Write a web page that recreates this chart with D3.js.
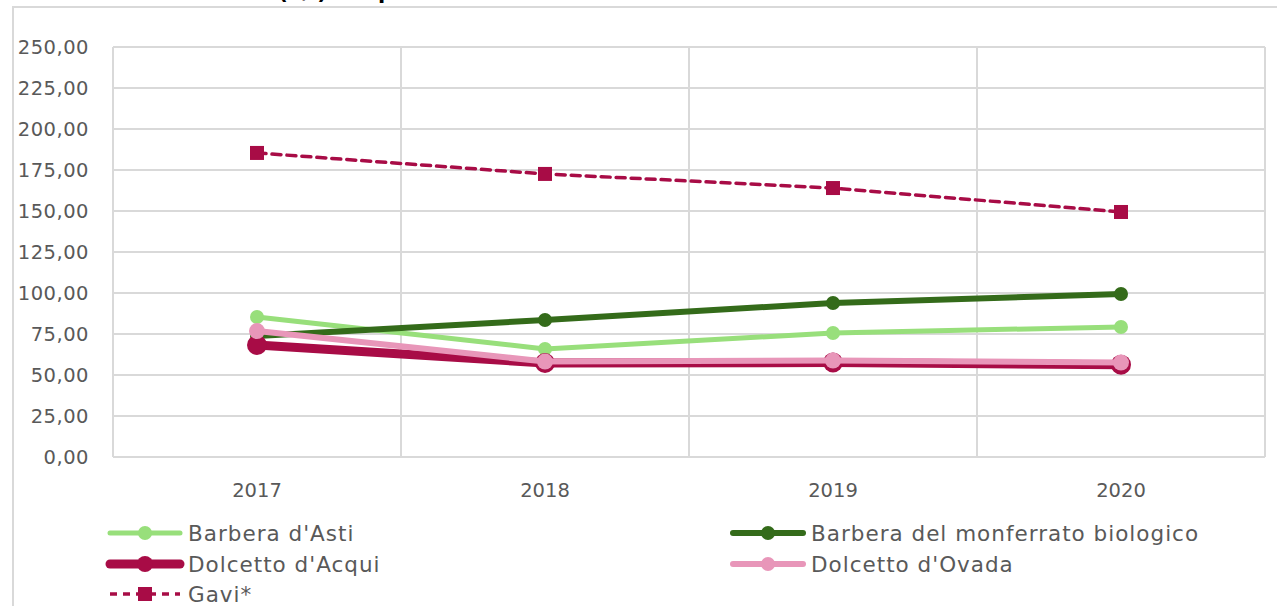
<!DOCTYPE html>
<html>
<head>
<meta charset="utf-8">
<script src="https://cdn.jsdelivr.net/npm/d3@7"></script>
<style>
  body { margin: 0; background: #fff; }
  text { font-family: "DejaVu Sans", sans-serif; }
</style>
</head>
<body>
<svg id="chart" width="1277" height="606"></svg>
<script>
var years = ["2017", "2018", "2019", "2020"];
var yTicks = [0, 25, 50, 75, 100, 125, 150, 175, 200, 225, 250];

var barberaAsti = [85.4, 65.9, 75.6, 79.3];
var barberaMonf = [73.8, 83.5, 93.9, 99.4];
var dolcettoAcqui = [68.3, 57.3, 57.6, 56.3];
var dolcettoOvada = [76.8, 58.2, 58.8, 57.6];
var gavi = [185.4, 172.6, 164.0, 149.4];

var series = [
    {name: "Barbera d'Asti", values: barberaAsti, color: "#98df7b", width: 5, r: 7, col: 0, row: 0},
    {name: "Barbera del monferrato biologico", values: barberaMonf, color: "#346b1a", width: 6, r: 7, col: 1, row: 0},
    {name: "Dolcetto d'Acqui", values: dolcettoAcqui, color: "#a80c46", width: 9, r: 10, col: 0, row: 1},
    {name: "Dolcetto d'Ovada", values: dolcettoOvada, color: "#e896b9", width: 6, r: 8, col: 1, row: 1},
    {name: "Gavi*", values: gavi, color: "#a80c46", width: 3.5, r: 0, square: 7, dash: "9,6", col: 0, row: 2}
];

var svg = d3.select("#chart");
var margin = {left: 113, right: 1265, top: 47, bottom: 457};

// outer frame, title mostly hidden above it
svg.append("text")
    .attr("x", 112).attr("y", -1)
    .attr("font-size", 21).attr("font-weight", "bold").attr("fill", "#000")
    .text("Prezzo medio (€/l) del prodotto");

svg.append("rect")
    .attr("x", 13).attr("y", 7)
    .attr("width", 1300).attr("height", 700)
    .attr("fill", "#fff").attr("stroke", "#d9d9d9").attr("stroke-width", 2);

var x = d3.scaleBand().domain(years).range([margin.left, margin.right]);
var y = d3.scaleLinear().domain([0, 250]).range([margin.bottom, margin.top]);

// horizontal grid
svg.append("g")
    .selectAll("line")
    .data(yTicks)
    .enter()
    .append("line")
    .attr("x1", margin.left).attr("x2", margin.right)
    .attr("y1", function(d){ return y(d); })
    .attr("y2", function(d){ return y(d); })
    .attr("stroke", "#d9d9d9").attr("stroke-width", 2);

// vertical grid on band edges
var edges = years.map(function(d){ return x(d); }).concat([margin.right]);
svg.append("g")
    .selectAll("line")
    .data(edges)
    .enter()
    .append("line")
    .attr("x1", function(d){ return d; }).attr("x2", function(d){ return d; })
    .attr("y1", margin.top).attr("y2", margin.bottom)
    .attr("stroke", "#d9d9d9").attr("stroke-width", 2);

var fmt = function(d){ return d3.format(".2f")(d).replace(".", ","); };

var yAxis = svg.append("g")
    .attr("transform", "translate(" + (margin.left - 21) + ",0)")
    .call(d3.axisLeft(y).tickValues(yTicks).tickFormat(fmt).tickSize(0));
yAxis.select(".domain").remove();
yAxis.selectAll("text")
    .attr("font-size", 19.5).attr("fill", "#595959")
    .attr("letter-spacing", 0.5)
    .attr("font-family", "DejaVu Sans");

var xAxis = svg.append("g")
    .attr("transform", "translate(0," + (margin.bottom + 23) + ")")
    .call(d3.axisBottom(x).tickSize(0));
xAxis.select(".domain").remove();
xAxis.selectAll("text")
    .attr("font-size", 19.5).attr("fill", "#595959")
    .attr("font-family", "DejaVu Sans");

var line = d3.line()
    .x(function(d, i){ return x(years[i]) + x.bandwidth() / 2; })
    .y(function(d){ return y(d); });

series.forEach(function(s){
    var g = svg.append("g");
    g.append("path")
        .datum(s.values)
        .attr("d", line)
        .attr("fill", "none")
        .attr("stroke", s.color)
        .attr("stroke-width", s.width)
        .attr("stroke-linecap", "round")
        .attr("stroke-linejoin", "round")
        .attr("stroke-dasharray", s.dash || null);
    if(s.square){
        g.selectAll("rect")
            .data(s.values)
            .enter()
            .append("rect")
            .attr("x", function(d, i){ return x(years[i]) + x.bandwidth() / 2 - s.square; })
            .attr("y", function(d){ return y(d) - s.square; })
            .attr("width", s.square * 2).attr("height", s.square * 2)
            .attr("fill", s.color);
    } else {
        g.selectAll("circle")
            .data(s.values)
            .enter()
            .append("circle")
            .attr("cx", function(d, i){ return x(years[i]) + x.bandwidth() / 2; })
            .attr("cy", function(d){ return y(d); })
            .attr("r", s.r)
            .attr("fill", s.color);
    }
});

// legend
var legendCols = [110, 733];
var legendRows = [533, 564, 594];
var legend = svg.append("g");
series.forEach(function(s){
    var lx = legendCols[s.col], ly = legendRows[s.row];
    var item = legend.append("g").attr("transform", "translate(" + lx + "," + ly + ")");
    item.append("line")
        .attr("x1", 0).attr("x2", 70)
        .attr("y1", 0).attr("y2", 0)
        .attr("stroke", s.color)
        .attr("stroke-width", s.width)
        .attr("stroke-linecap", s.dash ? "butt" : "round")
        .attr("stroke-dasharray", s.dash ? "7,6" : null);
    if(s.square){
        item.append("rect")
            .attr("x", 35 - s.square).attr("y", -s.square)
            .attr("width", s.square * 2).attr("height", s.square * 2)
            .attr("fill", s.color);
    } else {
        item.append("circle")
            .attr("cx", 35).attr("cy", 0).attr("r", s.r === 10 ? 8 : 7)
            .attr("fill", s.color);
    }
    item.append("text")
        .attr("x", 78).attr("y", 7.5)
        .attr("font-size", 21.5).attr("fill", "#595959")
        .attr("letter-spacing", 1)
        .text(s.name);
});
</script>
</body>
</html>
